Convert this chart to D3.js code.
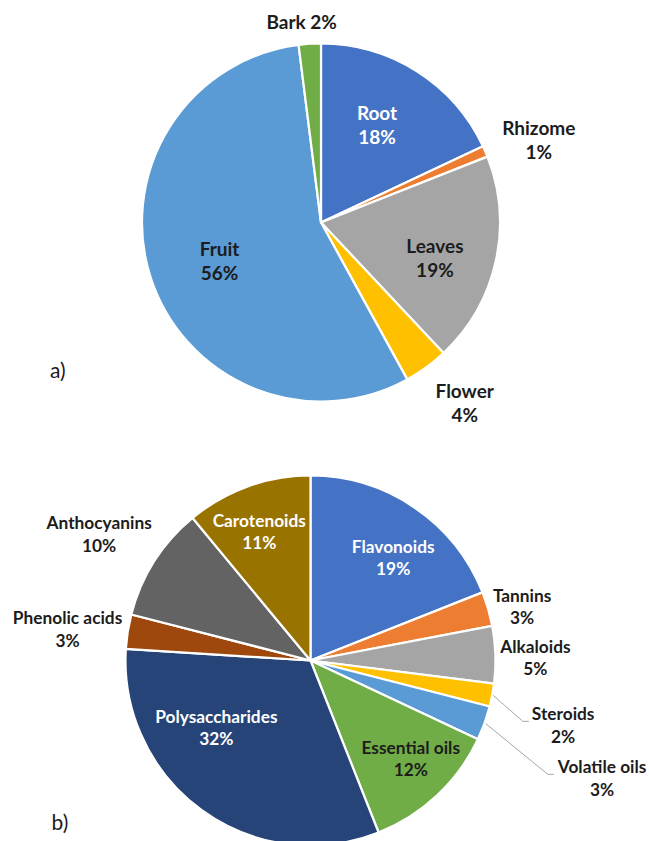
<!DOCTYPE html>
<html>
<head>
<meta charset="utf-8">
<script src="https://cdn.jsdelivr.net/npm/d3@7"></script>
<style>
  body { margin: 0; background: #fff; }
  svg { display: block; }
  text { font-family: Lato, "Open Sans", "DejaVu Sans", sans-serif; }
</style>
</head>
<body>
<svg id="chart" width="649" height="841"></svg>
<script>
// a) plant parts used
const partLabels = ["Root", "Rhizome", "Leaves", "Flower", "Fruit", "Bark"];
const partValues = [18, 1, 19, 4, 56, 2];
const partColors = ["#4472C4", "#ED7D31", "#A5A5A5", "#FFC000", "#5B9BD5", "#70AD47"];

// b) compound classes
const compoundLabels = ["Flavonoids", "Tannins", "Alkaloids", "Steroids", "Volatile oils",
  "Essential oils", "Polysaccharides", "Phenolic acids", "Anthocyanins", "Carotenoids"];
const compoundValues = [19, 3, 5, 2, 3, 12, 32, 3, 10, 11];
const compoundColors = ["#4472C4", "#ED7D31", "#A5A5A5", "#FFC000", "#5B9BD5",
  "#70AD47", "#264478", "#9E480E", "#636363", "#997300"];

// label placement per slice: [radius factor, angle shift in degrees]
const partLabelPlace = [[0.626, -2.4], [1.30, 2.8], [0.667, 4.8], [1.29, -2.5], [0.607, -3], [1.126, -1.9]];
const partLabelWhite = [true, false, false, false, false, false];
const partSingleLine = [false, false, false, false, false, true];

const compoundLabelPlace = [[0.712, 4.7], [1.18, 2], [1.216, 1.1], [1.41, 3.6], [1.70, 2.2],
  [0.76, -2.3], [0.626, 18.4], [1.324, -1.7], [1.33, -1.6], [0.749, -1.9]];
const compoundLabelWhite = [true, false, false, false, false, false, true, false, false, true];
const compoundLeader = [false, false, false, true, true, false, false, false, false, false];

const svg = d3.select("#chart");

function drawPie(cfg) {
  const g = svg.append("g");
  const pie = d3.pie().sort(null).value(d => d.value).startAngle(0).endAngle(2 * Math.PI);
  const arc = d3.arc().innerRadius(0).outerRadius(cfg.r);
  const data = cfg.labels.map((l, i) => ({ label: l, value: cfg.values[i], i }));
  const arcs = pie(data);

  g.attr("transform", `translate(${cfg.cx},${cfg.cy})`);

  g.selectAll("path.slice")
    .data(arcs)
    .join("path")
    .attr("class", "slice")
    .attr("d", arc)
    .attr("fill", d => cfg.colors[d.data.i])
    .attr("stroke", "#fff")
    .attr("stroke-width", 2.2)
    .attr("stroke-linejoin", "round");

  const polar = (a, rad) => [rad * Math.sin(a), -rad * Math.cos(a)];

  arcs.forEach(d => {
    const i = d.data.i;
    const [rf, shift] = cfg.place[i];
    const mid = (d.startAngle + d.endAngle) / 2;
    const a = mid + shift * Math.PI / 180;
    const [x, y] = polar(a, cfg.r * rf);
    const fill = cfg.white[i] ? "#ffffff" : "#1c1c1c";

    const t = g.append("text")
      .attr("text-anchor", "middle")
      .attr("font-weight", 700)
      .attr("font-size", cfg.fontSize)
      .attr("fill", fill);

    const pct = d3.format("d")(d.data.value) + "%";
    if (cfg.single && cfg.single[i]) {
      t.append("tspan").attr("x", x).attr("y", y + cfg.cap / 2).text(d.data.label + " " + pct);
    } else {
      const b1 = y - cfg.lineGap / 2 + cfg.cap / 2;
      t.append("tspan").attr("x", x).attr("y", b1).text(d.data.label);
      t.append("tspan").attr("x", x).attr("y", b1 + cfg.lineGap).text(pct);
    }

    if (cfg.leader && cfg.leader[i]) {
      const w = t.node().getBBox();
      const left = w.x;
      const [sx, sy] = polar(mid, cfg.r + 1);
      const ly = y - 4;
      g.insert("polyline", "text")
        .attr("points", [[sx, sy], [left - 9, ly], [left - 3, ly]].map(p => p.join(",")).join(" "))
        .attr("fill", "none")
        .attr("stroke", "#A6A6A6")
        .attr("stroke-width", 1);
    }
  });

  svg.append("text")
    .attr("x", cfg.tagX)
    .attr("y", cfg.tagY)
    .attr("font-size", cfg.tagSize)
    .attr("fill", "#1c1c1c")
    .text(cfg.tag);
}

drawPie({
  labels: partLabels, values: partValues, colors: partColors,
  cx: 321, cy: 222.5, r: 179,
  place: partLabelPlace, white: partLabelWhite, single: partSingleLine,
  fontSize: 19, lineGap: 24.2, cap: 13.4,
  tag: "a)", tagX: 50, tagY: 378, tagSize: 21
});

drawPie({
  labels: compoundLabels, values: compoundValues, colors: compoundColors,
  cx: 310.5, cy: 660.5, r: 185,
  place: compoundLabelPlace, white: compoundLabelWhite, leader: compoundLeader,
  fontSize: 17.3, lineGap: 22.3, cap: 12.2,
  tag: "b)", tagX: 51.5, tagY: 830, tagSize: 21
});
</script>
</body>
</html>
